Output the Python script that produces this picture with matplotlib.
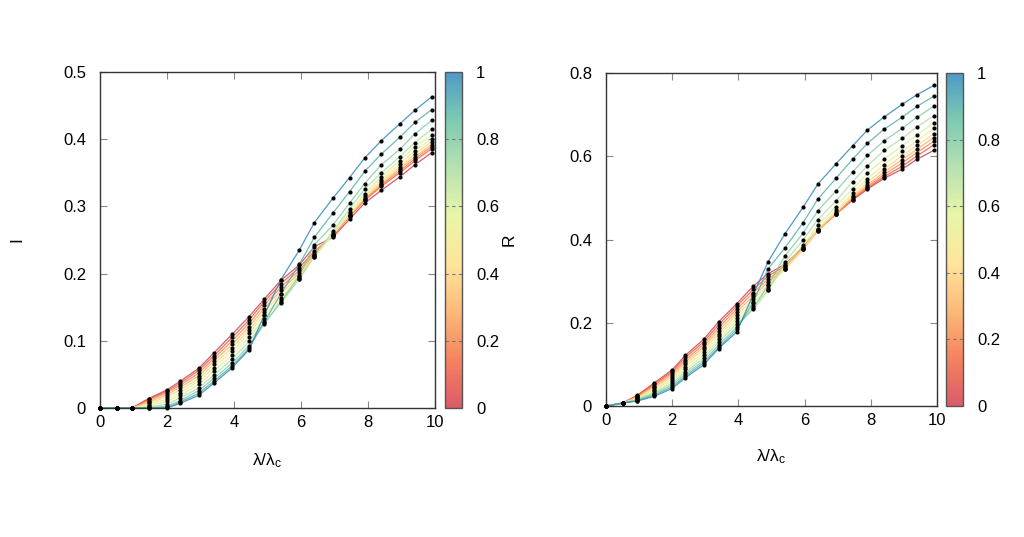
import matplotlib
matplotlib.use('Agg')
import matplotlib.pyplot as plt
from matplotlib.colors import LinearSegmentedColormap, Normalize
from matplotlib.cm import ScalarMappable
from matplotlib.ticker import FuncFormatter
import numpy as np

plt.rcParams['font.family'] = ['Liberation Sans', 'DejaVu Sans']
plt.rcParams['mathtext.fontset'] = 'custom'
plt.rcParams['mathtext.rm'] = 'Liberation Sans'
plt.rcParams['mathtext.it'] = 'Liberation Sans'

# lambda / lambda_c sample points
lam = [0, 0.5, 0.95, 1.45, 2.0, 2.4, 2.95, 3.4, 3.95, 4.45, 4.9,
       5.4, 5.95, 6.4, 6.95, 7.45, 7.9, 8.4, 8.95, 9.4, 9.9]

# colour parameter, one curve per value
r_values = [0.0, 0.1, 0.2, 0.3, 0.4, 0.5, 0.6, 0.7, 0.8, 0.9, 1.0]

# left panel: I
I_curves = [
    [0, 0, 0, .014, .027, .040, .059, .082, .110, .136, .162, .190, .213, .240, .254, .281, .305, .324, .344, .362, .380],
    [0, 0, 0, .013, .025, .037, .056, .078, .105, .131, .158, .185, .209, .233, .256, .285, .309, .330, .350, .368, .386],
    [0, 0, 0, .011, .023, .034, .052, .074, .100, .126, .153, .180, .205, .230, .257, .286, .310, .332, .353, .371, .389],
    [0, 0, 0, .009, .020, .031, .048, .070, .095, .121, .148, .175, .201, .228, .258, .286, .311, .334, .356, .374, .392],
    [0, 0, 0, .007, .017, .027, .044, .065, .090, .116, .143, .170, .197, .226, .258, .287, .313, .337, .359, .378, .396],
    [0, 0, 0, .005, .013, .023, .040, .060, .085, .111, .138, .164, .194, .225, .258, .288, .315, .340, .363, .383, .400],
    [0, 0, 0, .003, .010, .019, .035, .055, .079, .105, .133, .160, .192, .225, .260, .291, .319, .344, .368, .389, .406],
    [0, 0, 0, .001, .006, .015, .030, .049, .073, .099, .128, .156, .192, .227, .263, .296, .326, .350, .374, .395, .415],
    [0, 0, 0, 0, .003, .011, .026, .044, .067, .093, .125, .158, .197, .243, .272, .305, .334, .362, .385, .408, .428],
    [0, 0, 0, 0, .001, .009, .022, .040, .063, .089, .128, .170, .214, .254, .290, .322, .352, .378, .403, .425, .444],
    [0, 0, 0, 0, 0, .007, .019, .037, .060, .087, .138, .191, .235, .276, .312, .343, .372, .398, .423, .443, .463],
]

# right panel: R
R_curves = [
    [0, .007, .026, .055, .087, .122, .160, .202, .246, .288, .318, .340, .382, .424, .461, .495, .521, .547, .569, .593, .614],
    [0, .007, .025, .052, .083, .117, .154, .195, .240, .280, .312, .336, .379, .422, .461, .496, .524, .551, .576, .601, .627],
    [0, .007, .023, .049, .079, .111, .148, .188, .233, .272, .305, .332, .377, .421, .461, .498, .527, .556, .584, .609, .636],
    [0, .007, .022, .046, .074, .106, .142, .181, .226, .264, .298, .329, .376, .421, .462, .501, .531, .562, .592, .617, .645],
    [0, .007, .020, .043, .070, .100, .136, .174, .219, .256, .291, .328, .376, .422, .465, .505, .537, .570, .601, .626, .654],
    [0, .007, .019, .039, .065, .094, .129, .167, .212, .248, .284, .330, .379, .426, .470, .511, .546, .580, .612, .637, .667],
    [0, .007, .017, .036, .060, .088, .122, .160, .205, .240, .279, .336, .386, .434, .479, .522, .559, .593, .625, .651, .680],
    [0, .007, .016, .032, .055, .082, .115, .153, .198, .232, .278, .346, .398, .448, .493, .539, .577, .614, .643, .671, .697],
    [0, .007, .014, .029, .050, .077, .109, .146, .190, .236, .290, .360, .415, .469, .517, .562, .602, .637, .667, .694, .720],
    [0, .007, .013, .026, .046, .072, .104, .141, .184, .250, .330, .379, .440, .497, .547, .593, .631, .665, .694, .720, .744],
    [0, .007, .012, .023, .042, .068, .099, .138, .178, .268, .347, .413, .477, .533, .582, .625, .663, .694, .725, .748, .770],
]

spectral = LinearSegmentedColormap.from_list(
    'spectral_pal',
    ['#D53E4F', '#F46D43', '#FDAE61', '#FEE08B',
     '#E6F598', '#ABDDA4', '#66C2A5', '#3288BD'])
norm = Normalize(0, 1)


def style_axes(ax, ymax, ystep):
    ax.set_xlim(0, 10)
    ax.set_ylim(0, ymax)
    ax.set_xticks(np.arange(0, 11, 2))
    ax.set_yticks(np.arange(0, ymax + 1e-9, ystep))
    fmt = FuncFormatter(lambda v, p: '%g' % round(v, 3))
    ax.xaxis.set_major_formatter(fmt)
    ax.yaxis.set_major_formatter(fmt)
    ax.tick_params(direction='in', length=5, width=0.8, color='#888888',
                   top=True, right=True, labelsize=12)
    ax.tick_params(axis='y', pad=10)
    ax.tick_params(axis='x', pad=5)
    for s in ax.spines.values():
        s.set_linewidth(1.0)
        s.set_color('#333333')
    ax.set_xlabel(r'$\mathrm{\lambda/\lambda_c}$', fontsize=12.5)


def add_colorbar(fig, rect):
    cax = fig.add_axes(rect)
    sm = ScalarMappable(norm=norm, cmap=spectral)
    cb = fig.colorbar(sm, cax=cax, alpha=0.85)
    cb.set_ticks([0, 0.2, 0.4, 0.6, 0.8, 1])
    cb.ax.yaxis.set_major_formatter(FuncFormatter(lambda v, p: '%g' % round(v, 3)))
    cb.ax.tick_params(length=0, labelsize=12, pad=10)
    cb.outline.set_edgecolor('#555555')
    cb.outline.set_linewidth(1.0)
    for t in [0.2, 0.4, 0.6, 0.8]:
        cax.axhline(t, color='#777777', lw=0.8, ls=(0, (3, 3)))
    return cb


fig = plt.figure(figsize=(10.24, 5.37), dpi=100)

ax1 = fig.add_axes([100 / 1024, 1 - 408 / 537, 335 / 1024, 336 / 537])
ax2 = fig.add_axes([606 / 1024, 1 - 406 / 537, 331 / 1024, 333 / 537])

for r, yi, yr in zip(r_values, I_curves, R_curves):
    col = spectral(norm(r))
    ax1.plot(lam, yi, '-', color=col, lw=0.9, alpha=0.85)
    ax1.plot(lam, yi, 'o', color='black', ms=3, mew=0, clip_on=False, zorder=3)
    ax2.plot(lam, yr, '-', color=col, lw=0.9, alpha=0.85)
    ax2.plot(lam, yr, 'o', color='black', ms=3, mew=0, clip_on=False, zorder=3)

style_axes(ax1, 0.5, 0.1)
style_axes(ax2, 0.8, 0.2)

ax1.set_ylabel('I', fontsize=12.5)
ax1.yaxis.set_label_coords(-0.225, 0.5)
ax1.xaxis.set_label_coords(0.5, -0.13)
ax2.set_ylabel('R', fontsize=12.5)
ax2.yaxis.set_label_coords(-0.27, 0.5)
ax2.xaxis.set_label_coords(0.5, -0.125)

add_colorbar(fig, [445 / 1024, 1 - 408 / 537, 17 / 1024, 336 / 537])
add_colorbar(fig, [946 / 1024, 1 - 406 / 537, 17 / 1024, 333 / 537])

fig.savefig('out.png', dpi=100)
